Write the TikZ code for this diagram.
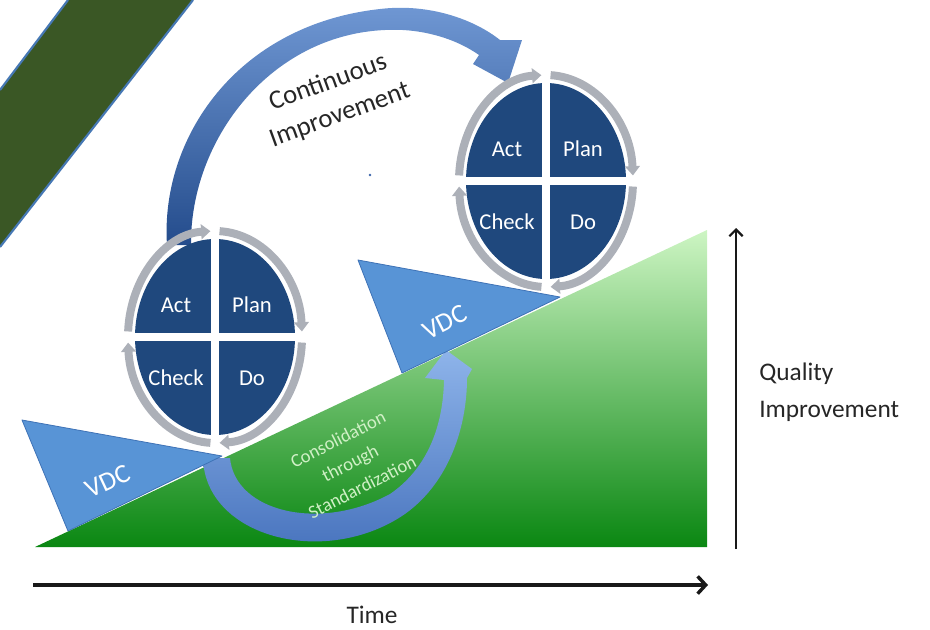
\documentclass[tikz,border=0pt]{standalone}
\usepackage{fontspec}
\setmainfont{Carlito}
\usetikzlibrary{arrows.meta}
\definecolor{bandgreen}{RGB}{58,87,37}
\definecolor{bandblue}{RGB}{70,120,180}
\definecolor{quadblue}{RGB}{31,72,125}
\definecolor{ringgray}{RGB}{172,176,184}
\definecolor{vdcblue}{RGB}{88,148,214}
\definecolor{vdcedge}{RGB}{62,114,182}
\definecolor{txtgreen}{RGB}{208,240,198}
\definecolor{rampTop}{RGB}{205,245,195}
\definecolor{rampMid}{RGB}{92,182,82}
\definecolor{rampBot}{RGB}{10,135,18}
\definecolor{bigLight}{RGB}{112,152,212}
\definecolor{bigDark}{RGB}{36,76,140}
\definecolor{conLight}{RGB}{142,180,234}
\definecolor{conDark}{RGB}{66,110,186}
\definecolor{dotblue}{RGB}{60,100,170}
\newcommand{\pdcacircle}[3]{%
  \coordinate (c#1) at (#2,#3);
  \fill[quadblue] (c#1) ellipse [x radius=80, y radius=98];
  \foreach \a/\b in {183/267, 273/357, 3/87, 93/177}{
    \draw[ringarc] ([shift={(\a:87 and 106)}]c#1)
      arc[start angle=\a, end angle=\b, x radius=87, y radius=106];
  }
  \draw[white, line width=6pt] ([shift={(0,-112)}]c#1) -- ([shift={(0,112)}]c#1);
  \draw[white, line width=6pt] ([shift={(-92,0)}]c#1) -- ([shift={(92,0)}]c#1);
  \node[qlabel] (act#1) at ([shift={(-39,-32)}]c#1) {Act};
  \node[qlabel] (plan#1) at ([shift={(37,-32)}]c#1) {Plan};
  \node[qlabel] (check#1) at ([shift={(-39,41)}]c#1) {Check};
  \node[qlabel] (do#1) at ([shift={(37,41)}]c#1) {Do};
}
\begin{document}
\begin{tikzpicture}[x=0.75pt, y=-0.75pt,
  ringarc/.style={draw=ringgray, line width=6pt, -{Triangle[length=7pt,width=11pt]}},
  qlabel/.style={text=white, font=\fontsize{17}{20}\selectfont, inner sep=0pt},
  vdctext/.style={text=white, font=\fontsize{20}{24}\selectfont, inner sep=0pt},
  ctext/.style={text=black!85, font=\fontsize{20}{26}\selectfont, inner sep=0pt},
  stext/.style={text=txtgreen, font=\fontsize{14}{20}\selectfont, inner sep=0pt},
  axistext/.style={text=black!85, font=\fontsize{19}{28}\selectfont, inner sep=0pt},
  vdcshape/.style={fill=vdcblue, draw=vdcedge, line width=0.6pt, line join=round}
]
\useasboundingbox (0,0) rectangle (930,629);

% diagonal band
\fill[bandgreen] (68,0) -- (193,0) -- (0,247) -- (0,90) -- cycle;
\draw[bandblue, line width=1.6pt] (68,0) -- (0,90);
\draw[bandblue, line width=1.6pt] (193,0) -- (0,247);

% green ramp
\shade[top color=rampTop, middle color=rampMid, bottom color=rampBot]
  (35,547) -- (707,547) -- (707,230) -- cycle;

% consolidation arrow
\shade[top color=conLight, bottom color=conDark]
  (203,458) .. controls (205,536) and (322,568) .. (402,516)
  .. controls (447,486) and (467,430) .. (467,378)
  -- (472,369) -- (446,350) -- (425,378) -- (444,380)
  .. controls (443,430) and (425,470) .. (390,494)
  .. controls (320,532) and (235,512) .. (230,458) -- cycle;

% VDC triangles
\draw[vdcshape] (22,420) -- (222,456) -- (68,531) -- cycle;
\draw[vdcshape] (358,260) -- (560,297) -- (402,373) -- cycle;
\node[vdctext, rotate=25] (vdc1) at (108,481) {VDC};
\node[vdctext, rotate=27] (vdc2) at (445,322) {VDC};

% continuous improvement arrow
\shade[top color=bigLight, bottom color=bigDark]
  (167,245) .. controls (160,140) and (235,25) .. (380,9)
  .. controls (430,3) and (475,20) .. (500,40)
  -- (522,40) -- (508,83) -- (473,64) -- (479,55)
  .. controls (455,38) and (420,28) .. (385,30)
  .. controls (270,35) and (190,140) .. (191,245) -- cycle;

% PDCA circles
\pdcacircle{1}{215}{337}
\pdcacircle{2}{546}{181}

% texts
\node[ctext, rotate=20, align=center] (cont) at (334,99) {Continuous\\Improvement};
\node[stext, rotate=27, align=center] (consol) at (350,463) {Consolidation\\through\\Standardization};
\fill[dotblue] (370,175) circle[radius=1.3];

% axes
\coordinate (t0) at (33,585);
\coordinate (t1) at (708,585);
\draw[black!90, line width=2.6pt, -{Straight Barb[length=6pt,width=13pt]}] (t0) -- (t1);
\coordinate (q0) at (736,549);
\coordinate (q1) at (736,228);
\draw[black!90, line width=1.6pt, -{Straight Barb[length=5pt,width=10pt]}] (q0) -- (q1);
\node[axistext] (time) at (372,615) {Time};
\node[axistext, anchor=west, align=left] (quality) at (759,392) {Quality\\Improvement};
\end{tikzpicture}
\end{document}
